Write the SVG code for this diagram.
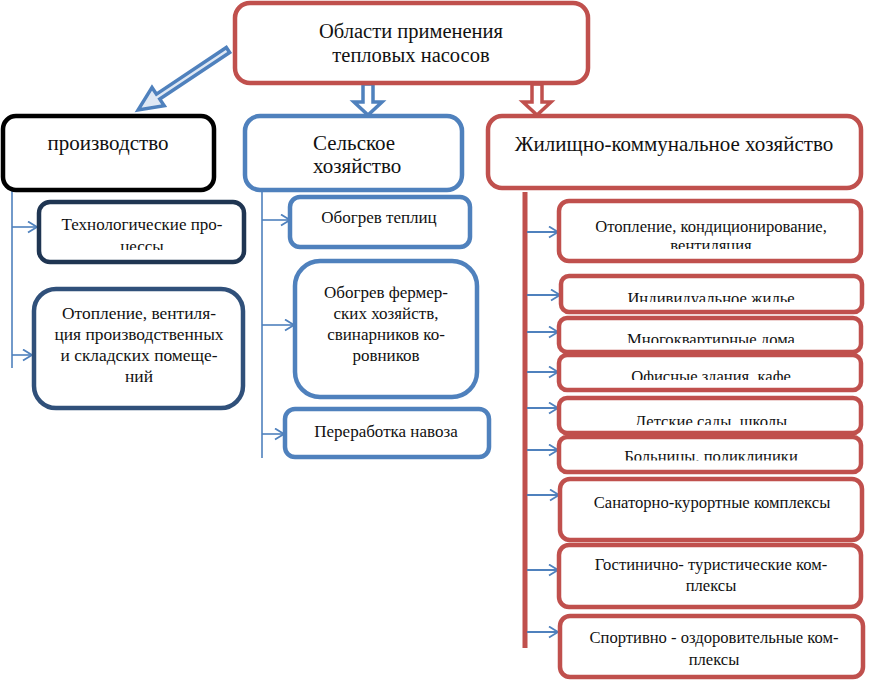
<svg xmlns="http://www.w3.org/2000/svg" width="872" height="680" viewBox="0 0 872 680" font-family="Liberation Serif, Times New Roman, serif">
<style>
.t{font-family:"Liberation Serif","Times New Roman",serif;fill:#111;text-anchor:middle}
.f20{font-size:20.5px}.f21{font-size:21px}.f17{font-size:17px}.f17b{font-size:17.4px}.f16{font-size:16.6px}
.red{fill:#fff;stroke:#c0504d;stroke-width:4.5}
.blue{fill:#fff;stroke:#4f81bd;stroke-width:4.5}
.blk{fill:#fff;stroke:#000;stroke-width:4.5}
.navy{fill:#fff;stroke:#1f3552;stroke-width:4.5}
.navy2{fill:#fff;stroke:#30507a;stroke-width:4.5}
.ln{fill:none;stroke:#4f81bd;stroke-width:1.6}
.ar{fill:none;stroke:#4f81bd;stroke-width:2;marker-end:url(#ah)}
.arl{fill:none;stroke:#4f81bd;stroke-width:1.6;marker-end:url(#ah)}
.rbar{fill:none;stroke:#c0504d;stroke-width:5}
</style>
<defs>
<marker id="ah" markerUnits="userSpaceOnUse" markerWidth="12" markerHeight="14" refX="10" refY="6" orient="auto">
<path d="M1,0.5 L10,6 L1,11.5" fill="none" stroke="#4f81bd" stroke-width="1.8"/>
</marker>
<clipPath id="c1"><rect x="560" y="200" width="300" height="49"/></clipPath>
<clipPath id="c2"><rect x="560" y="276" width="300" height="26"/></clipPath>
<clipPath id="c3"><rect x="560" y="319" width="300" height="24"/></clipPath>
<clipPath id="c4"><rect x="560" y="356" width="300" height="24"/></clipPath>
<clipPath id="c5"><rect x="560" y="399" width="300" height="26"/></clipPath>
<clipPath id="c6"><rect x="560" y="438" width="300" height="22.6"/></clipPath>
<clipPath id="c7"><rect x="40" y="204" width="200" height="46"/></clipPath>
</defs>

<g id="connectors">
<path d="M-5,0 L5,0 L5,18 L14,18 L0,31 L-14,18 L-5,18 Z" transform="translate(368,84)" fill="#fff" stroke="#4f81bd" stroke-width="3.5" stroke-linejoin="miter"/>
<path d="M-5,0 L5,0 L5,18 L14,18 L0,31 L-14,18 L-5,18 Z" transform="translate(537,84)" fill="#fff" stroke="#c0504d" stroke-width="3.5" stroke-linejoin="miter"/>
<path d="M-3,0 L3,0 L3,84 L11,84 L0,108 L-11,84 L-3,84 Z" transform="translate(228,50) rotate(56.3)" fill="#dfe8f4" stroke="#4f81bd" stroke-width="3.5" stroke-linejoin="miter"/>
<line class="ln" x1="12" y1="190" x2="12" y2="368"/>
<line class="arl" x1="12" y1="227" x2="37" y2="227"/>
<line class="arl" x1="12" y1="355" x2="32" y2="355"/>
<line class="ln" x1="262" y1="188" x2="262" y2="458"/>
<line class="arl" x1="262" y1="220" x2="290" y2="220"/>
<line class="arl" x1="262" y1="325" x2="294" y2="325"/>
<line class="arl" x1="262" y1="434" x2="284" y2="434"/>
<line class="rbar" x1="525" y1="192" x2="525" y2="648"/>
<line class="ar" x1="527" y1="232" x2="558" y2="232"/>
<line class="ar" x1="527" y1="295" x2="560" y2="295"/>
<line class="ar" x1="527" y1="332" x2="558" y2="332"/>
<line class="ar" x1="527" y1="372" x2="558" y2="372"/>
<line class="ar" x1="527" y1="408" x2="558" y2="408"/>
<line class="ar" x1="527" y1="450" x2="558" y2="450"/>
<line class="ar" x1="527" y1="495" x2="559" y2="495"/>
<line class="ar" x1="527" y1="570" x2="558" y2="570"/>
<line class="ar" x1="527" y1="632" x2="558" y2="632"/>
</g>

<g id="root">
<rect class="red" x="235" y="3" width="353" height="80" rx="15"/>
<text class="t f20" x="411" y="38">Области применения</text>
<text class="t f20" x="411" y="62">тепловых насосов</text>
</g>

<g id="prod">
<rect class="blk" x="3" y="116" width="211" height="74" rx="13"/>
<text class="t f21" x="108" y="150">производство</text>
</g>
<g id="prod1">
<rect class="navy" x="39" y="202" width="205" height="60" rx="11"/>
<g clip-path="url(#c7)">
<text class="t f17" x="142" y="230">Технологические про-</text>
<text class="t f17" x="142" y="252">цессы</text>
</g>
</g>
<g id="prod2">
<rect class="navy2" x="34" y="289" width="209" height="119" rx="22"/>
<text class="t f17b" x="139" y="319">Отопление, вентиля-</text>
<text class="t f17b" x="139" y="340">ция производственных</text>
<text class="t f17b" x="139" y="361">и складских помеще-</text>
<text class="t f17b" x="139" y="382">ний</text>
</g>

<g id="agri">
<rect class="blue" x="245" y="116" width="217" height="74" rx="15"/>
<text class="t f21" x="313" y="150" text-anchor="start" style="text-anchor:start">Сельское</text>
<text class="t f21" x="313" y="173" text-anchor="start" style="text-anchor:start">хозяйство</text>
</g>
<g id="agri1">
<rect class="blue" x="290" y="197" width="180" height="50" rx="10"/>
<text class="t f17" x="379" y="223">Обогрев теплиц</text>
</g>
<g id="agri2">
<rect class="blue" x="295" y="261" width="182" height="136" rx="25"/>
<text class="t f17" x="386" y="298">Обогрев фермер-</text>
<text class="t f17" x="386" y="319">ских хозяйств,</text>
<text class="t f17" x="386" y="340">свинарников ко-</text>
<text class="t f17" x="386" y="361">ровников</text>
</g>
<g id="agri3">
<rect class="blue" x="285" y="409" width="204" height="48" rx="10"/>
<text class="t f17" x="386" y="437">Переработка навоза</text>
</g>

<g id="zhkh">
<rect class="red" x="488" y="116" width="373" height="72" rx="14"/>
<text class="t f21" x="674" y="151">Жилищно-коммунальное хозяйство</text>
</g>
<g id="z1">
<rect class="red" x="559" y="201" width="302" height="60" rx="10"/>
<g clip-path="url(#c1)">
<text class="t f16" x="711" y="232">Отопление, кондиционирование,</text>
<text class="t f16" x="711" y="251">вентиляция</text>
</g>
</g>
<g id="z2">
<rect class="red" x="561" y="276" width="301" height="36" rx="8"/>
<text class="t f16" x="711" y="304" clip-path="url(#c2)">Индивидуальное жилье</text>
</g>
<g id="z3">
<rect class="red" x="559" y="318" width="302" height="34" rx="8"/>
<text class="t f16" x="711" y="345" clip-path="url(#c3)">Многоквартирные дома</text>
</g>
<g id="z4">
<rect class="red" x="559" y="355" width="302" height="35" rx="8"/>
<text class="t f16" x="711" y="382" clip-path="url(#c4)">Офисные здания, кафе</text>
</g>
<g id="z5">
<rect class="red" x="559" y="398" width="302" height="35" rx="8"/>
<text class="t f16" x="711" y="427" clip-path="url(#c5)">Детские сады, школы</text>
</g>
<g id="z6">
<rect class="red" x="559" y="437" width="302" height="35" rx="8"/>
<text class="t f16" x="711" y="461.5" clip-path="url(#c6)">Больницы, поликлиники</text>
</g>
<g id="z7">
<rect class="red" x="560" y="479" width="302" height="61" rx="10"/>
<text class="t f16" x="712" y="508">Санаторно-курортные комплексы</text>
</g>
<g id="z8">
<rect class="red" x="559" y="545" width="302" height="62" rx="10"/>
<text class="t f16" x="711" y="570">Гостинично- туристические ком-</text>
<text class="t f16" x="711" y="591">плексы</text>
</g>
<g id="z9">
<rect class="red" x="560" y="616" width="303" height="61" rx="10"/>
<text class="t f16" x="714" y="643">Спортивно - оздоровительные ком-</text>
<text class="t f16" x="714" y="665">плексы</text>
</g>
</svg>
